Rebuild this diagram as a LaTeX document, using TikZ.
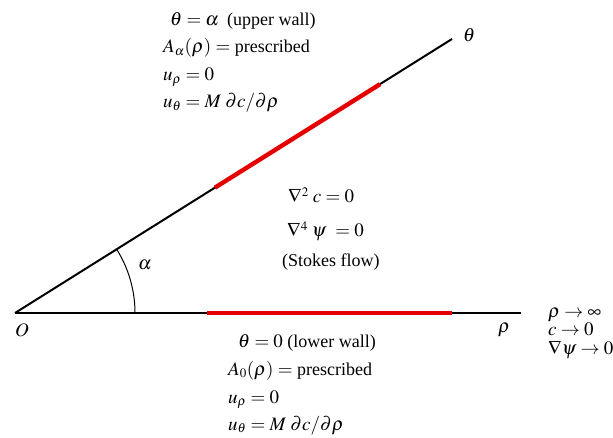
\documentclass[tikz,border=0pt]{standalone}
\usepackage{mathptmx}
\usepackage[no-math]{fontspec}
\setmainfont{Liberation Serif}
\DeclareMathSizes{18}{19}{13}{10}
\begin{document}
\begin{tikzpicture}[x=1pt,y=-1pt,
  wall/.style={line width=2pt,black},
  hot/.style={line width=4.4pt,red!90!black},
  lbl/.style={inner sep=0pt,anchor=base west,font=\fontsize{18}{18}\selectfont}]
\useasboundingbox (0,0) rectangle (613,438);
% geometry
\coordinate (O) at (15,313);
\coordinate (R) at (521,313);
\coordinate (T) at (452,39);
\coordinate (uA) at (215,187.6);
\coordinate (uB) at (380,84.2);
\coordinate (lA) at (207,313);
\coordinate (lB) at (452,313);
\draw[wall] (O) -- (R);
\draw[wall] (O) -- (T);
\draw[hot] (uA) -- (uB);
\draw[hot] (lA) -- (lB);
\draw[line width=1pt] (135,313) arc[start angle=0,end angle=-32.08,radius=120];
% labels on geometry
\node[lbl] (Olbl) at (15,337) {$O$};
\node[lbl] (rholbl) at (498,333) {$\rho$};
\node[lbl] (thlbl) at (463,42) {$\theta$};
\node[lbl] (allbl) at (138,270) {$\alpha$};
% upper wall conditions
\node[lbl] (u1) at (170,26) {$\theta = \alpha$\hspace{0.45em}(upper wall)};
\node[lbl] (u2) at (163,53) {$A_\alpha(\rho) =$ prescribed};
\node[lbl] (u3) at (163,81) {$u_\rho = 0$};
\node[lbl] (u4) at (163,108) {$u_\theta = M\;\partial c/\partial\rho$};
% interior
\node[lbl] (c1) at (288,203) {$\nabla^2\;c = 0$};
\node[lbl] (c2) at (287,237) {$\nabla^4\;\psi\ = 0$};
\node[lbl] (c3) at (282,267) {(Stokes flow)};
% lower wall conditions
\node[lbl] (l1) at (238,347) {$\theta = 0$ (lower wall)};
\node[lbl] (l2) at (228,375) {$A_0(\rho) =$ prescribed};
\node[lbl] (l3) at (228,403) {$u_\rho = 0$};
\node[lbl] (l4) at (228,430) {$u_\theta = M\;\partial c/\partial\rho$};
% far field
\node[lbl] (far) at (548,317) {$\begin{array}[t]{@{}l@{}}
  \rho \to \infty\\
  c \to 0\\
  \nabla\psi \to 0
\end{array}$};
\end{tikzpicture}
\end{document}
